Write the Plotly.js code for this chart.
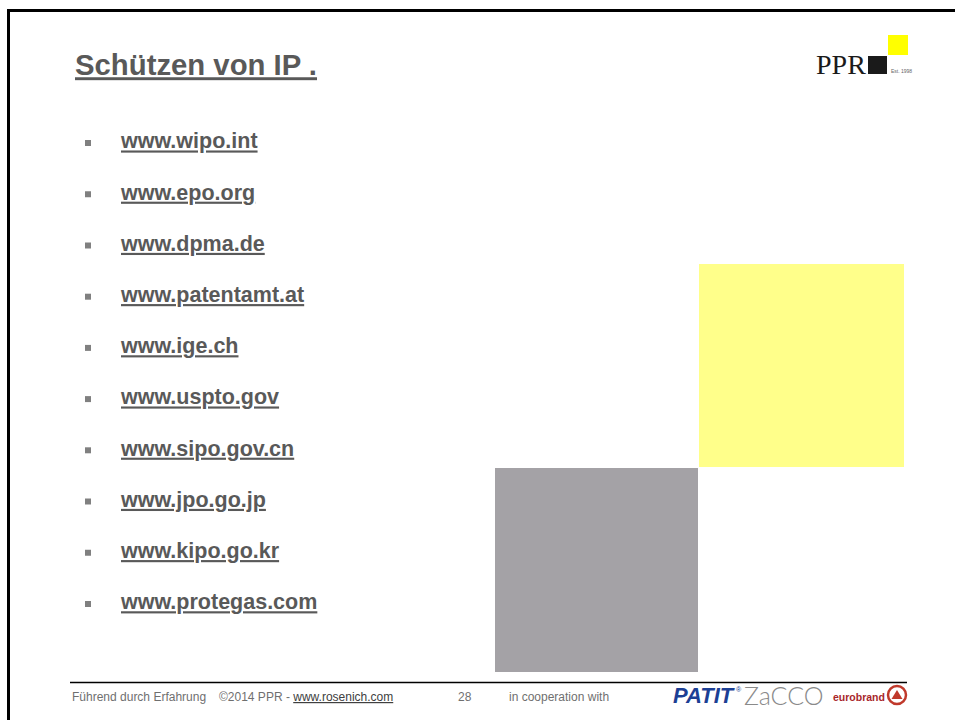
<!DOCTYPE html>
<html>
<head>
<meta charset="utf-8">
<script src="https://cdn.plot.ly/plotly-3.0.1.min.js"></script>
<style>
  html, body { margin: 0; padding: 0; background: #fff; }
  #slide { width: 955px; height: 720px; }
</style>
</head>
<body>
<div id="slide"></div>
<script>
// list of IP office / service links shown on the slide
var links = ["www.wipo.int", "www.epo.org", "www.dpma.de", "www.patentamt.at", "www.ige.ch",
             "www.uspto.gov", "www.sipo.gov.cn", "www.jpo.go.jp", "www.kipo.go.kr", "www.protegas.com"];
var slideTitle = "Schützen von IP .";
var footerLeft = "Führend durch Erfahrung";
var footerCopy = "©2014 PPR - ";
var footerUrl = "www.rosenich.com";
var pageNo = "28";
var partnerText = "in cooperation with";

var gray = "#595959";
var sans = "Arial, 'Liberation Sans', sans-serif";

var bullets = {
    x: links.map(function () { return 88; }),
    y: links,
    yaxis: "y2",
    mode: "markers",
    type: "scatter",
    marker: {symbol: "square", size: 6, color: "#808080"},
    hoverinfo: "skip"
};

var labels = {
    x: links.map(function () { return 121; }),
    y: links,
    yaxis: "y2",
    mode: "text",
    type: "scatter",
    text: links,
    textposition: "middle right",
    textfont: {family: sans, size: 21.5, color: gray, weight: "bold", lineposition: "under"},
    hoverinfo: "skip"
};

var layout = {
    width: 955,
    height: 720,
    margin: {l: 0, r: 0, t: 0, b: 0},
    paper_bgcolor: "#fff",
    plot_bgcolor: "#fff",
    showlegend: false,
    title: {
        text: slideTitle,
        x: 75 / 955, xanchor: "left",
        y: 1 - 65 / 720, yanchor: "middle",
        font: {family: sans, size: 29.3, color: gray, weight: "bold", lineposition: "under"}
    },
    xaxis: {range: [0, 955], visible: false, fixedrange: true},
    yaxis: {range: [720, 0], visible: false, fixedrange: true},
    yaxis2: {
        type: "category",
        range: [links.length - 0.5, -0.5],
        domain: [1 - 629.5 / 720, 1 - 117.5 / 720],
        anchor: "x",
        visible: false,
        fixedrange: true
    },
    shapes: [
        // slide frame
        {type: "rect", xref: "x", yref: "y", x0: 8.5, y0: 10.5, x1: 990, y1: 760,
         line: {color: "#000", width: 3}},
        // decorative squares
        {type: "rect", x0: 699, y0: 264, x1: 904, y1: 467, fillcolor: "#ffff8a", line: {width: 0}},
        {type: "rect", x0: 495, y0: 468, x1: 698, y1: 672, fillcolor: "#a4a2a6", line: {width: 0}},
        // PPR logo squares
        {type: "rect", x0: 888, y0: 35, x1: 908, y1: 55, fillcolor: "#ffff00", line: {width: 0}},
        {type: "rect", x0: 868, y0: 56, x1: 887, y1: 74, fillcolor: "#1a1a1a", line: {width: 0}},
        // footer rule
        {type: "line", x0: 70, y0: 682.5, x1: 907, y1: 682.5, line: {color: "#000", width: 1.5}},
        // eurobrand emblem
        {type: "circle", x0: 888, y0: 686, x1: 906, y1: 704, line: {color: "#c0392b", width: 2.5}},
        {type: "path", path: "M 891.5 699 L 897 690 L 902.5 699 Z", fillcolor: "#c0392b", line: {width: 0}}
    ],
    annotations: [
        {x: 814, y: 64, text: "PPR", showarrow: false, xanchor: "left", yanchor: "middle",
         font: {family: "'Liberation Serif', 'Times New Roman', serif", size: 28, color: "#1a1a1a"}},
        {x: 889, y: 71, text: "Est. 1998", showarrow: false, xanchor: "left", yanchor: "middle",
         font: {family: sans, size: 5, color: "#666"}},
        {x: 70, y: 697, text: footerLeft, showarrow: false, xanchor: "left", yanchor: "middle",
         font: {family: sans, size: 12, color: "#6f6f6f"}},
        {x: 217, y: 697, text: footerCopy + "<span style='color:#404040'><u>" + footerUrl + "</u></span>",
         showarrow: false, xanchor: "left", yanchor: "middle",
         font: {family: sans, size: 12, color: "#6f6f6f"}},
        {x: 456, y: 697, text: pageNo, showarrow: false, xanchor: "left", yanchor: "middle",
         font: {family: sans, size: 12, color: "#6f6f6f"}},
        {x: 507, y: 697, text: partnerText, showarrow: false, xanchor: "left", yanchor: "middle",
         font: {family: sans, size: 12, color: "#6f6f6f"}},
        {x: 671, y: 695, text: "<b><i>PATIT</i></b>", showarrow: false, xanchor: "left", yanchor: "middle",
         font: {family: sans, size: 22, color: "#1c3f94"}},
        {x: 734, y: 689, text: "®", showarrow: false, xanchor: "left", yanchor: "middle",
         font: {family: sans, size: 7, color: "#1c3f94"}},
        {x: 742, y: 695, text: "ZaCCO", showarrow: false, xanchor: "left", yanchor: "middle",
         font: {family: "Lato, 'DejaVu Sans', sans-serif", size: 25, color: "#8a8a8a", weight: 300}},
        {x: 831, y: 697, text: "<b>eurobrand</b>", showarrow: false, xanchor: "left", yanchor: "middle",
         font: {family: sans, size: 10.5, color: "#a8262b"}}
    ]
};

Plotly.newPlot("slide", [bullets, labels], layout, {staticPlot: true, displayModeBar: false});
</script>
</body>
</html>
